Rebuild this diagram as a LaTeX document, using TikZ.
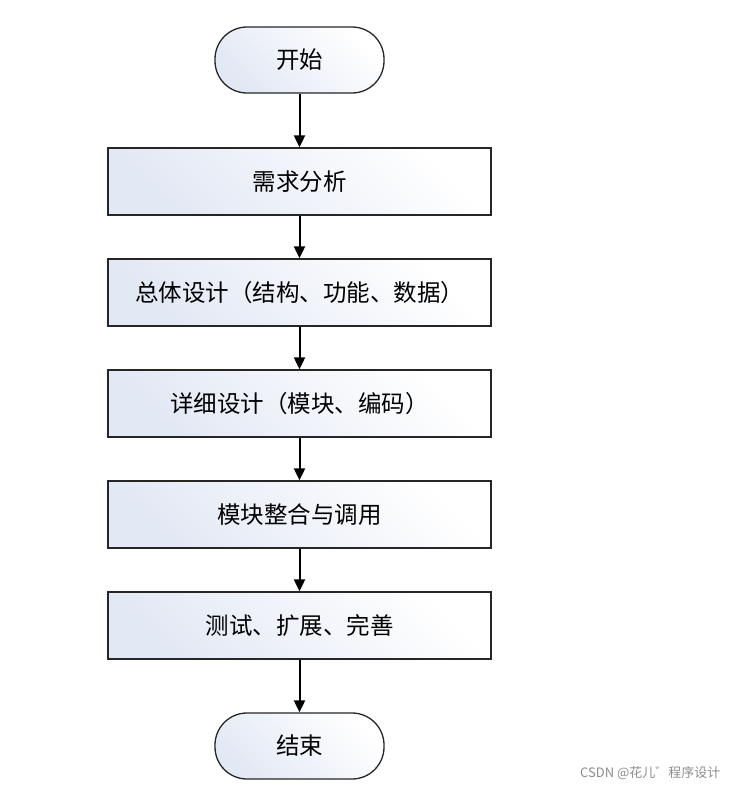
\documentclass[tikz,border=0pt]{standalone}
\usepackage{fontspec}
\setmainfont{Noto Sans CJK SC}
\usetikzlibrary{arrows.meta}
\definecolor{gfill}{HTML}{E2E8F4}
\begin{document}
\begin{tikzpicture}[x=1pt,y=-1pt,
  every node/.style={font=\fontsize{23.5}{26}\selectfont, text=black},
  boxnode/.style={draw=black!85, line width=1.3pt, minimum width=383pt, minimum height=67pt,
    inner sep=0pt, shading=axis, top color=gfill, bottom color=white, shading angle=135},
  termnode/.style={boxnode, minimum width=169pt, minimum height=66pt, rounded corners=32pt},
  arr/.style={-{Triangle[length=12pt,width=11pt]}, line width=2pt}]
\useasboundingbox (0,0) rectangle (733,787);
\node[termnode] (s) at (299.5,60) {开始};
\node[boxnode] (b1) at (299.5,181.5) {需求分析};
\node[boxnode] (b2) at (299.5,292.5) {总体设计（结构、功能、数据）};
\node[boxnode] (b3) at (299.5,403.5) {详细设计（模块、编码）};
\node[boxnode] (b4) at (299.5,514.5) {模块整合与调用};
\node[boxnode] (b5) at (299.5,625.5) {测试、扩展、完善};
\node[termnode] (e) at (299.5,746) {结束};
\foreach \a/\b in {s/b1,b1/b2,b2/b3,b3/b4,b4/b5,b5/e} \draw[arr] (\a) -- (\b);
\node[font=\fontsize{13}{14}\selectfont, text=black!45, anchor=east] (w) at (724,773) {CSDN @花儿゛程序设计};
\end{tikzpicture}
\end{document}
